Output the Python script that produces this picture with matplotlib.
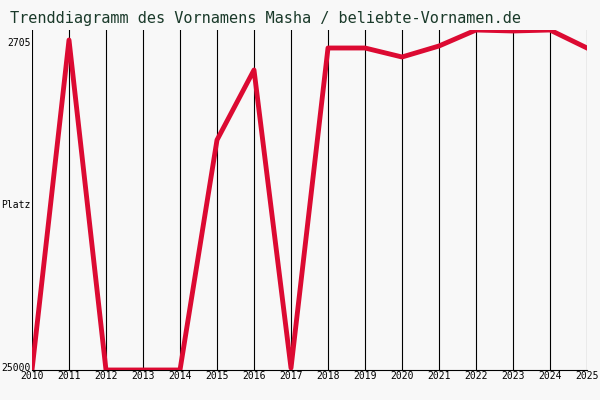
import matplotlib
matplotlib.use("Agg")
import matplotlib.pyplot as plt

years = list(range(2010, 2026))
ranks = [25206, 2568, 25206, 25206, 25206, 9428, 4626, 25069, 3117, 3117, 3734, 2979, 1882, 1950, 1882, 3117]

fig = plt.figure(figsize=(6, 4), dpi=100, facecolor="#f8f8f8")
ax = fig.add_axes([32/600, 0.075, 555/600, 0.85])
ax.set_facecolor("#f8f8f8")
for y in years:
    ax.axvline(y, color="black", lw=0.8, zorder=1)
ax.plot(years, ranks, color="#dc0a32", lw=3.5, zorder=3)
ax.set_xlim(2010, 2025)
ax.set_ylim(25206, 1882)
ax.set_xticks(years)
ax.set_xticklabels([str(y) for y in years], family="DejaVu Sans Mono", fontsize=7)
ax.set_yticks([2705, 13850, 25000])
ax.set_yticklabels(["2705", "Platz", "25000"], family="DejaVu Sans Mono", fontsize=7)
ax.tick_params(length=0, pad=1)
for s in ax.spines.values():
    s.set_visible(False)
ax.spines["bottom"].set_visible(True)
fig.text(10/600, 1-18/400, "Trenddiagramm des Vornamens Masha / beliebte-Vornamen.de",
         family="DejaVu Sans Mono", fontsize=11, color="#1a3a2a", va="center")
fig.savefig("out.png", dpi=100, facecolor="#f8f8f8")
